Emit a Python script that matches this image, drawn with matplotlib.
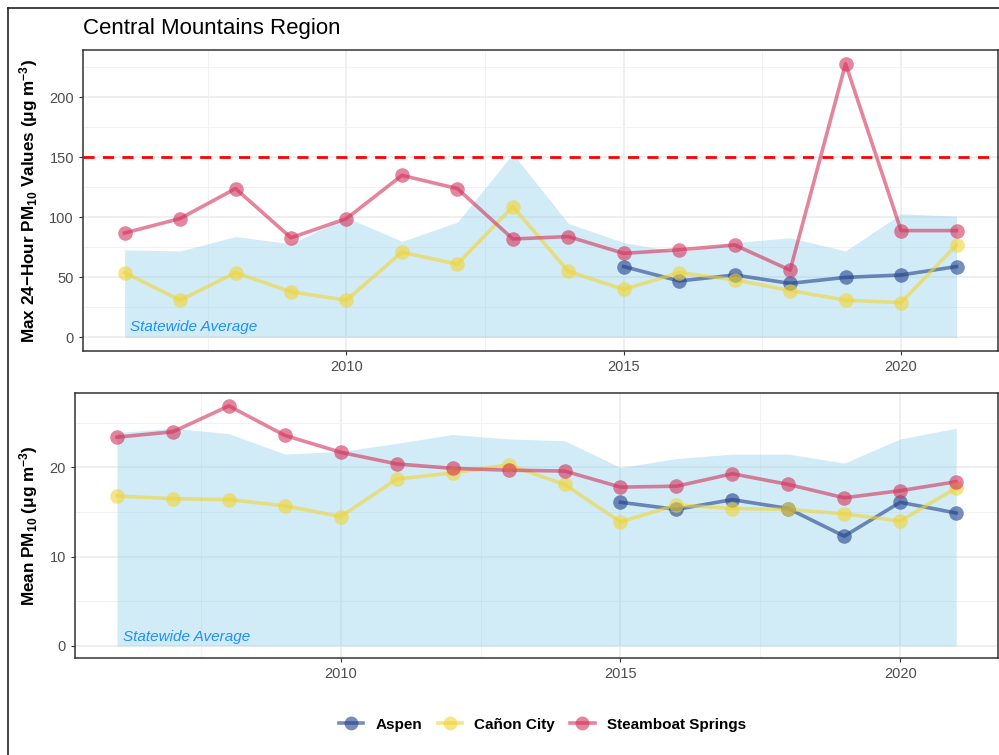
import matplotlib
matplotlib.use("Agg")
import matplotlib.pyplot as plt
from matplotlib.lines import Line2D
from matplotlib.ticker import MultipleLocator

plt.rcParams['font.family'] = ['Liberation Sans', 'DejaVu Sans']
plt.rcParams['mathtext.fontset'] = 'custom'
plt.rcParams['mathtext.rm'] = 'Liberation Sans'
plt.rcParams['mathtext.bf'] = 'Liberation Sans:bold'
plt.rcParams['mathtext.it'] = 'Liberation Sans:italic'

years = list(range(2006, 2022))
aspen_years = list(range(2015, 2022))

# max 24-hour values
state_max = [73, 72, 84, 78, 100, 80, 96, 153, 95, 79, 71, 79, 83, 72, 103, 101]
steamboat_max = [87, 99, 124, 83, 99, 135, 124, 82, 84, 70, 73, 77, 56, 228, 89, 89]
canon_max = [54, 31, 54, 38, 31, 71, 61, 109, 55, 40, 54, 48, 39, 31, 29, 77]
aspen_max = [59, 47, 52, 45, 50, 52, 59]

# annual means
state_mean = [23.9, 24.4, 23.8, 21.5, 21.8, 22.7, 23.7, 23.2, 23.0, 20.0, 21.0, 21.5, 21.5, 20.5, 23.2, 24.4]
steamboat_mean = [23.4, 24.0, 26.9, 23.6, 21.7, 20.4, 19.9, 19.7, 19.6, 17.8, 17.9, 19.3, 18.1, 16.6, 17.4, 18.4]
canon_mean = [16.8, 16.5, 16.4, 15.7, 14.5, 18.7, 19.4, 20.3, 18.1, 13.9, 15.8, 15.4, 15.3, 14.8, 14.0, 17.7]
aspen_mean = [16.1, 15.3, 16.4, 15.4, 12.3, 16.1, 14.9]

sites = ['Aspen', 'Cañon City', 'Steamboat Springs']
colors = {'Aspen': '#22408C', 'Cañon City': '#F2D335', 'Steamboat Springs': '#D2335C'}

fig = plt.figure(figsize=(9.99, 7.55), dpi=100)

ax1 = fig.add_axes([0.0831, 0.535, 0.916, 0.3987])
ax2 = fig.add_axes([0.0751, 0.1285, 0.924, 0.351])


def draw_panel(ax, state, series, ylim, major, minor, label_y):
    ax.fill_between(years, 0, state, color='#87CEEB', alpha=0.38, linewidth=0, zorder=1)
    for name, xs, ys in series:
        ax.plot(xs, ys, color=colors[name], lw=2.6, alpha=0.6, zorder=3)
        ax.scatter(xs, ys, s=110, color=colors[name], alpha=0.6, linewidths=0, zorder=4)
    ax.text(2006.1, label_y, 'Statewide Average', color='#1E90FF', fontsize=11,
            style='italic', zorder=5)
    ax.set_xlim(2005.25, 2021.75)
    ax.set_ylim(*ylim)
    ax.xaxis.set_major_locator(MultipleLocator(5))
    ax.xaxis.set_minor_locator(MultipleLocator(2.5))
    ax.yaxis.set_major_locator(MultipleLocator(major))
    ax.yaxis.set_minor_locator(MultipleLocator(minor))
    ax.grid(which='major', color='#EBEBEB', lw=1.1, zorder=0)
    ax.grid(which='minor', color='#F2F2F2', lw=0.7, zorder=0)
    ax.set_axisbelow(True)
    ax.tick_params(which='major', length=3, color='#333333', labelsize=10.5,
                   labelcolor='#4D4D4D')
    ax.tick_params(which='minor', length=0)
    for s in ax.spines.values():
        s.set_color('#333333')
        s.set_linewidth(1.1)


draw_panel(ax1, state_max,
           [('Aspen', aspen_years, aspen_max),
            ('Cañon City', years, canon_max),
            ('Steamboat Springs', years, steamboat_max)],
           (-11.4, 239.4), 50, 25, 5)
ax1.axhline(150, color='red', lw=2, ls=(0, (4, 3)), zorder=2)
ax1.set_ylabel('Max 24\u2212Hour PM$_{\\mathbf{10}}$ Values ($\\mathbf{\\mu}$g m$^{\\mathbf{-3}}$)',
               fontsize=12.3, fontweight='bold')

draw_panel(ax2, state_mean,
           [('Aspen', aspen_years, aspen_mean),
            ('Cañon City', years, canon_mean),
            ('Steamboat Springs', years, steamboat_mean)],
           (-1.35, 28.35), 10, 5, 0.6)
ax2.set_ylabel('Mean PM$_{\\mathbf{10}}$ ($\\mathbf{\\mu}$g m$^{\\mathbf{-3}}$)',
               fontsize=12.3, fontweight='bold')

ax1.yaxis.set_label_coords(-0.047, 0.5)
ax2.yaxis.set_label_coords(-0.038, 0.5)

fig.text(0.083, 0.962, 'Central Mountains Region', fontsize=16, va='center', ha='left')

handles = [Line2D([0], [0], color=colors[n], lw=2.6, alpha=0.6, marker='o',
                  markersize=10, markeredgewidth=0) for n in sites]
leg = fig.legend(handles, sites, loc='center', bbox_to_anchor=(0.543, 0.040), ncol=3,
                 frameon=False, handlelength=1.6, columnspacing=1.0,
                 prop={'weight': 'bold', 'size': 11})

# outer border
fig.add_artist(Line2D([0.008, 0.008], [0, 0.9895], color='#222222', lw=1.2,
                      transform=fig.transFigure))
fig.add_artist(Line2D([0.008, 1.0], [0.9895, 0.9895], color='#222222', lw=1.2,
                      transform=fig.transFigure))

fig.savefig('out.png', dpi=100)
